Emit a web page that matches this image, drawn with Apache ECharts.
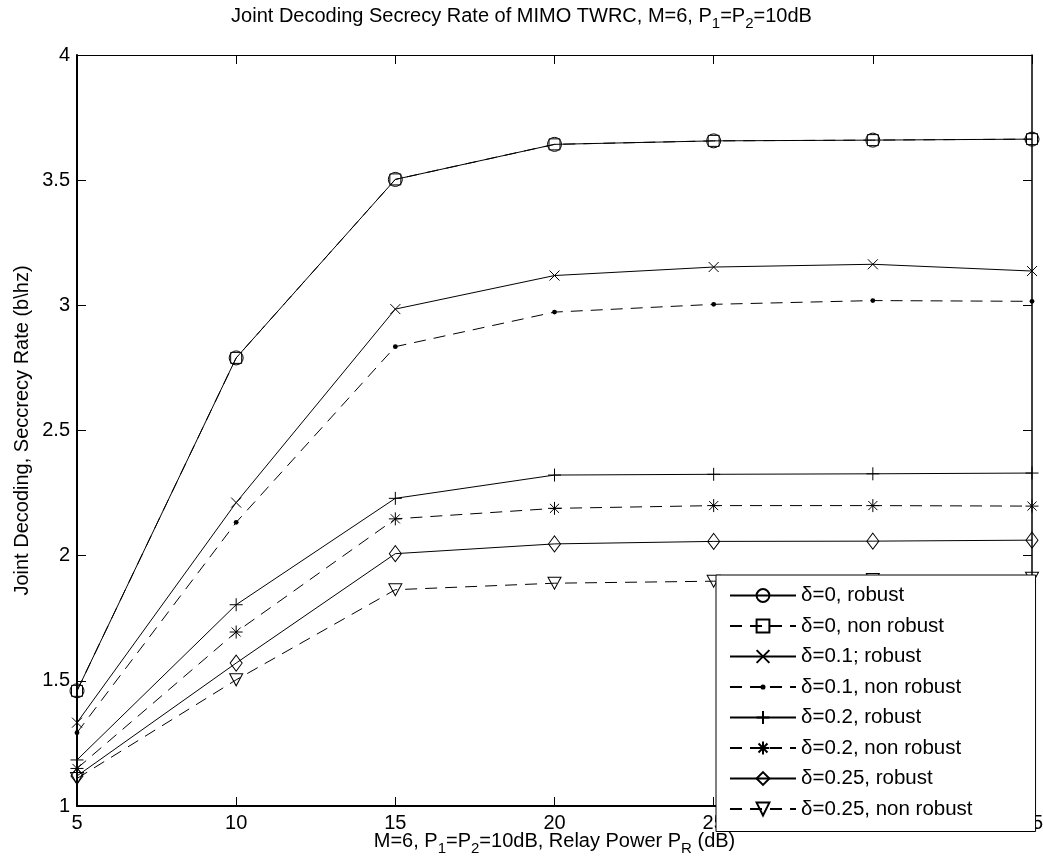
<!DOCTYPE html>
<html>
<head>
<meta charset="utf-8">
<script src="https://cdn.jsdelivr.net/npm/echarts@6/dist/echarts.min.js"></script>
<style>
  html, body { margin: 0; padding: 0; background: #fff; }
  #chart { width: 1043px; height: 867px; }
</style>
</head>
<body>
<div id="chart"></div>
<script>
// relay power (dB)
const relayPower = [5, 10, 15, 20, 25, 30, 35];

// secrecy rate per case
const d0Robust      = [1.46, 2.79, 3.503, 3.643, 3.657, 3.660, 3.664];
const d0NonRobust   = [1.46, 2.79, 3.503, 3.643, 3.657, 3.660, 3.664];
const d01Robust     = [1.333, 2.212, 2.985, 3.119, 3.153, 3.164, 3.137];
const d01NonRobust  = [1.293, 2.133, 2.835, 2.973, 3.004, 3.019, 3.016];
const d02Robust     = [1.184, 1.804, 2.229, 2.322, 2.325, 2.327, 2.330];
const d02NonRobust  = [1.150, 1.695, 2.147, 2.189, 2.200, 2.200, 2.198];
const d025Robust    = [1.120, 1.571, 2.008, 2.047, 2.057, 2.058, 2.062];
const d025NonRobust = [1.110, 1.504, 1.864, 1.890, 1.898, 1.905, 1.910];

const legendNames = [
  'δ=0, robust', 'δ=0, non robust', 'δ=0.1; robust', 'δ=0.1, non robust',
  'δ=0.2, robust', 'δ=0.2, non robust', 'δ=0.25, robust', 'δ=0.25, non robust'
];

const FONT = '"Liberation Sans", Arial, Helvetica, sans-serif';

// marker shapes (matlab style)
const SYM_X = 'path://M0,0L10,10M10,0L0,10';
const SYM_PLUS = 'path://M5,0L5,10M0,5L10,5';
const SYM_STAR = 'path://M5,0L5,10M0,5L10,5M1.5,1.5L8.5,8.5M8.5,1.5L1.5,8.5';
const SYM_DOT = 'path://M0,0L0,0M3,5a2,2 0 1 0 4,0a2,2 0 1 0 -4,0M10,10L10,10';
const SYM_TRI = 'path://M0,0L10,0L5,9Z';

function pairs(ys) {
  return relayPower.map((x, i) => [x, ys[i]]);
}

function makeSeries(name, ys, dashed, symbol, size, filled) {
  return {
    name: name,
    type: 'line',
    data: pairs(ys),
    symbol: symbol,
    symbolSize: size,
    showAllSymbol: true,
    lineStyle: { color: '#000', width: 1, type: dashed ? [12, 8] : 'solid' },
    itemStyle: filled
      ? { color: '#000', borderWidth: 0 }
      : { color: 'rgba(0,0,0,0)', borderColor: '#000', borderWidth: 1 },
    emphasis: { disabled: true },
    z: 3
  };
}

const subRich = {
  n: { fontSize: 20, lineHeight: 22, verticalAlign: 'top', fontFamily: FONT, color: '#000' },
  s: { fontSize: 15, lineHeight: 16, padding: [10, 0, 0, 0], verticalAlign: 'top', fontFamily: FONT, color: '#000' }
};

const chart = echarts.init(document.getElementById('chart'));
chart.setOption({
  animation: false,
  backgroundColor: '#fff',
  title: {
    text: '{n|Joint Decoding Secrecy Rate of MIMO TWRC, M=6, P}{s|1}{n|=P}{s|2}{n|=10dB}',
    left: 'center',
    top: 1,
    textStyle: { rich: subRich, fontFamily: FONT, fontWeight: 'normal' }
  },
  grid: { left: 77, right: 11, top: 55, bottom: 61, outerBoundsMode: 'none' },
  legend: {
    orient: 'vertical',
    left: 716,
    top: 575,
    height: 250,
    itemWidth: 66,
    itemHeight: 16,
    itemGap: 9.5,
    padding: [10, 63, 12, 13],
    backgroundColor: '#fff',
    borderColor: '#000',
    borderWidth: 1,
    borderRadius: 0,
    textStyle: { fontSize: 20.5, fontFamily: FONT, color: '#000' },
    data: legendNames,
    selectedMode: false,
    z: 10
  },
  xAxis: [
    {
      type: 'value', min: 5, max: 35, interval: 5, position: 'bottom',
      axisLine: { lineStyle: { color: '#000', width: 2 } },
      axisTick: { inside: true, length: 9, lineStyle: { color: '#000', width: 1 } },
      axisLabel: { fontSize: 20, fontFamily: FONT, color: '#000', margin: 7 },
      splitLine: { show: false },
      name: '{n|M=6, P}{s|1}{n|=P}{s|2}{n|=10dB, Relay Power P}{s|R}{n| (dB)}',
      nameLocation: 'middle',
      nameGap: 25,
      nameMoveOverlap: false,
      nameTextStyle: { rich: subRich, fontFamily: FONT }
    },
    {
      type: 'value', min: 5, max: 35, interval: 5, position: 'top',
      axisLine: { lineStyle: { color: '#000', width: 1 } },
      axisTick: { inside: true, length: 9, lineStyle: { color: '#000', width: 1 } },
      axisLabel: { show: false },
      splitLine: { show: false }
    }
  ],
  yAxis: [
    {
      type: 'value', min: 1, max: 4, interval: 0.5, position: 'left',
      axisLine: { show: true, lineStyle: { color: '#000', width: 2 } },
      axisTick: { show: true, inside: true, length: 9, lineStyle: { color: '#000', width: 1 } },
      axisLabel: { fontSize: 20, fontFamily: FONT, color: '#000', margin: 7 },
      splitLine: { show: false },
      name: 'Joint Decoding, Seccrecy Rate (b\\hz)',
      nameLocation: 'middle',
      nameRotate: 90,
      nameGap: 45,
      nameMoveOverlap: false,
      nameTextStyle: { fontSize: 20, fontFamily: FONT, color: '#000' }
    },
    {
      type: 'value', min: 1, max: 4, interval: 0.5, position: 'right',
      axisLine: { show: true, lineStyle: { color: '#000', width: 1.5 } },
      axisTick: { show: true, inside: true, length: 9, lineStyle: { color: '#000', width: 1 } },
      axisLabel: { show: false },
      splitLine: { show: false }
    }
  ],
  series: [
    makeSeries(legendNames[0], d0Robust, false, 'circle', 14, false),
    makeSeries(legendNames[1], d0NonRobust, true, 'rect', 11, false),
    makeSeries(legendNames[2], d01Robust, false, SYM_X, 10, false),
    makeSeries(legendNames[3], d01NonRobust, true, SYM_DOT, 12, true),
    makeSeries(legendNames[4], d02Robust, false, SYM_PLUS, 13, false),
    makeSeries(legendNames[5], d02NonRobust, true, SYM_STAR, 13, false),
    makeSeries(legendNames[6], d025Robust, false, 'diamond', [12, 16], false),
    makeSeries(legendNames[7], d025NonRobust, true, SYM_TRI, [13, 12], false)
  ]
});
</script>
</body>
</html>
